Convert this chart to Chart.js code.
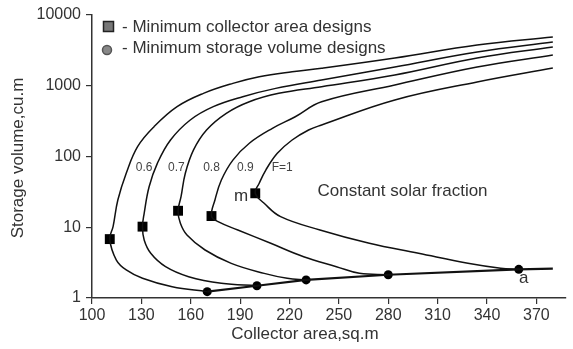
<!DOCTYPE html>
<html>
<head>
<meta charset="utf-8">
<script src="https://cdn.jsdelivr.net/npm/chart.js@4.4.1/dist/chart.umd.min.js"></script>
<style>
  html, body { margin: 0; padding: 0; background: #fff; }
  #wrap { width: 573px; height: 349px; position: relative; }
</style>
</head>
<body>
<div id="wrap"><canvas id="chart"></canvas></div>
<script>
// --- DATI (area collettore sq.m, volume accumulo cu.m) ---
const fractions = ['0.6', '0.7', '0.8', '0.9', 'F=1'];

const area06 = [380, 334, 284, 239.5, 221.6, 201.6, 185.6, 167.7, 151.7, 137.7, 127.7, 120.8, 115.7, 112.8, 110.8, 114.8, 120.8, 130.7, 148.7, 170];
const vol06  = [4890, 3770, 2470, 1770, 1580, 1340, 1080, 780, 506, 264, 138, 58, 24.3, 10.2, 6.8, 3.44, 2.49, 1.9, 1.44, 1.23];

const area07 = [380, 334, 284, 239.5, 211.6, 191.6, 173.7, 159.7, 147.7, 139.7, 134.7, 131.7, 130.7, 131.7, 135.7, 144.7, 158.7, 178.6, 200.2];
const vol07  = [4150, 3000, 1840, 1205, 918, 700, 506, 328, 171, 80, 37.4, 15.7, 10.2, 6.6, 4.28, 2.77, 2.0, 1.61, 1.49];

const area08 = [380, 334, 284, 239.5, 213.5, 195.6, 181.6, 169.6, 161.7, 156.7, 154.1, 152.3, 153.7, 157.7, 168.7, 184.6, 204.6, 218.6, 230.1];
const vol08  = [3530, 2470, 1420, 971, 782, 595, 408, 237, 124, 58, 27, 17.1, 11.4, 7.77, 4.77, 3.09, 2.23, 1.9, 1.8];

const area09 = [380, 334, 284, 239.5, 223.5, 209.6, 195.6, 185.6, 178.6, 174.7, 172.6, 176.6, 188.6, 208.6, 228.6, 248.5, 262.5, 280];
const vol09  = [2720, 1840, 1025, 594, 365, 250, 154, 89, 46.5, 24.3, 14.4, 12.0, 9.15, 5.93, 3.83, 2.77, 2.23, 2.13];

const area10 = [380, 334, 284, 239.5, 231.6, 221.6, 212.6, 205.6, 201.6, 199.2, 204.6, 214.6, 238.5, 268.5, 298.4, 328.4, 348.3, 359.3];
const vol10  = [1780, 1130, 629, 279, 237, 171, 111, 64.4, 41.8, 30.2, 21.8, 14.1, 9.15, 5.93, 4.28, 3.09, 2.63, 2.54];

// minimo area collettore (quadrati)
const minAreaX = [110.8, 130.7, 152.3, 172.6, 199.2];
const minAreaY = [6.8, 10.2, 17.1, 14.4, 30.2];

// minimo volume accumulo (cerchi) + retta fino ad "a"
const minVolX = [170, 200.2, 230.1, 280, 359.3];
const minVolY = [1.23, 1.49, 1.8, 2.13, 2.54];
const lineX = [170, 200.2, 230.1, 280, 359.3, 380];
const lineY = [1.23, 1.49, 1.8, 2.13, 2.54, 2.6];

const xTicks = [100, 130, 160, 190, 220, 250, 280, 310, 340, 370];
const yTicks = [1, 10, 100, 1000, 10000];

const toPts = (xs, ys) => xs.map((x, i) => ({ x: x, y: ys[i] }));

const curves = [[area06, vol06], [area07, vol07], [area08, vol08], [area09, vol09], [area10, vol10]];
const INK = '#111';
const TXT = '#333';
const FONT = 'Arial, "Liberation Sans", sans-serif';

const datasets = curves.map((c, i) => ({
  label: fractions[i],
  data: toPts(c[0], c[1]),
  showLine: true,
  borderColor: INK,
  borderWidth: 1.5,
  pointRadius: 0,
  tension: 0.4
}));

datasets.push({
  label: 'locus',
  data: toPts(lineX, lineY),
  showLine: true,
  borderColor: INK,
  borderWidth: 2.2,
  pointRadius: 0,
  tension: 0
});
datasets.push({
  label: 'min area',
  data: toPts(minAreaX, minAreaY),
  showLine: false,
  pointStyle: 'rect',
  pointRadius: 7,
  backgroundColor: '#000',
  borderColor: '#000',
  borderWidth: 0
});
datasets.push({
  label: 'min volume',
  data: toPts(minVolX, minVolY),
  showLine: false,
  pointStyle: 'circle',
  pointRadius: 4.5,
  backgroundColor: '#000',
  borderColor: '#000',
  borderWidth: 0
});

// testi e legenda disegnati sopra il grafico
const notes = {
  id: 'notes',
  afterDraw(chart) {
    const ctx = chart.ctx;
    const sx = chart.scales.x, sy = chart.scales.y;
    ctx.save();
    ctx.textBaseline = 'middle';

    // legenda
    ctx.fillStyle = '#777';
    ctx.strokeStyle = '#222';
    ctx.lineWidth = 1.5;
    ctx.fillRect(103.5, 21.5, 10, 10);
    ctx.strokeRect(103.5, 21.5, 10, 10);
    ctx.beginPath();
    ctx.arc(107, 50, 4.5, 0, Math.PI * 2);
    ctx.fillStyle = '#888';
    ctx.fill();
    ctx.strokeStyle = '#555';
    ctx.stroke();
    ctx.fillStyle = TXT;
    ctx.font = '17px ' + FONT;
    ctx.textAlign = 'left';
    ctx.fillText('- Minimum collector area designs', 122, 27);
    ctx.fillText('- Minimum storage volume designs', 122, 48);

    // etichette frazione solare
    const labAt = [131.7, 151.3, 172.6, 193.2, 215.6];
    ctx.font = '12px ' + FONT;
    ctx.fillStyle = '#444';
    ctx.textAlign = 'center';
    fractions.forEach((f, i) => ctx.fillText(f, sx.getPixelForValue(labAt[i]), sy.getPixelForValue(70)));

    ctx.font = '17px ' + FONT;
    ctx.fillStyle = TXT;
    ctx.fillText('m', sx.getPixelForValue(190.6), sy.getPixelForValue(27));
    ctx.fillText('a', sx.getPixelForValue(362.3), sy.getPixelForValue(1.9));
    ctx.textAlign = 'left';
    ctx.fillText('Constant solar fraction', sx.getPixelForValue(237), sy.getPixelForValue(31.8));

    // titoli assi
    ctx.textAlign = 'center';
    ctx.fillText('Collector area,sq.m', 305, 334);
    ctx.translate(18, 158);
    ctx.rotate(-Math.PI / 2);
    ctx.fillText('Storage volume,cu.m', 0, 0);
    ctx.restore();
  }
};

new Chart(document.getElementById('chart'), {
  type: 'scatter',
  data: { datasets: datasets },
  options: {
    responsive: true,
    maintainAspectRatio: false,
    animation: false,
    layout: { padding: { top: 15, right: 0, bottom: 0, left: 0 } },
    plugins: { legend: { display: false }, tooltip: { enabled: false } },
    scales: {
      x: {
        type: 'linear',
        min: 100,
        max: 388,
        afterBuildTicks: (s) => { s.ticks = xTicks.map(v => ({ value: v })); },
        afterFit: (s) => { s.height = 51; },
        grid: { drawOnChartArea: false, tickLength: 6, color: '#333', lineWidth: 1.2 },
        border: { display: true, color: '#333', width: 1.5 },
        ticks: { color: TXT, font: { size: 16, family: FONT }, padding: 2, maxRotation: 0 }
      },
      y: {
        type: 'logarithmic',
        min: 1,
        max: 10000,
        afterBuildTicks: (s) => { s.ticks = yTicks.map(v => ({ value: v })); },
        afterFit: (s) => { s.width = 92; },
        grid: { drawOnChartArea: false, tickLength: 6, color: '#333', lineWidth: 1.2 },
        border: { display: true, color: '#333', width: 1.5 },
        ticks: { color: TXT, font: { size: 16, family: FONT }, padding: 5, callback: (v) => String(v) }
      }
    }
  },
  plugins: [notes]
});
</script>
</body>
</html>
